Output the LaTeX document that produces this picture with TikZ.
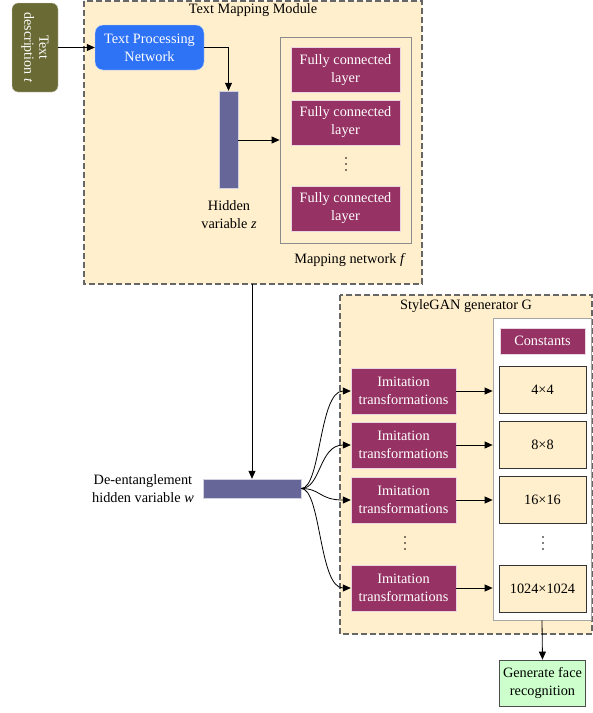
\documentclass[tikz,border=0pt]{standalone}
\usepackage{fontspec}
\setmainfont{Liberation Serif}
\usetikzlibrary{arrows.meta}
\definecolor{beige}{HTML}{FFEFCC}
\definecolor{maroon}{HTML}{973364}
\definecolor{tpblue}{HTML}{2E72F5}
\definecolor{olive}{HTML}{6A6A35}
\definecolor{barc}{HTML}{666699}
\definecolor{greenf}{HTML}{CCFFCC}
\newcommand{\fsz}{\fontsize{14.3}{18}\selectfont}
\tikzset{
  module/.style={draw=black!60, dash pattern=on 6pt off 3pt, line width=1.3pt, fill=beige},
  fcbox/.style={fill=maroon, draw=white!80!maroon, text=white, minimum width=109pt, minimum height=45pt, align=center, font=\fsz, inner sep=0pt},
  imbox/.style={fill=maroon, draw=white!80!maroon, text=white, minimum width=105pt, minimum height=46pt, align=center, font=\fsz, inner sep=0pt},
  sizebox/.style={fill=beige, draw=black!80, line width=0.8pt, minimum width=87pt, minimum height=47pt, align=center, font=\fsz, inner sep=0pt},
  lbl/.style={align=center, font=\fsz, inner sep=0pt},
  dotc/.style={fill=black, circle, inner sep=0pt, minimum size=1.8pt},
  arr/.style={-{Triangle[length=8pt,width=7pt]}, line width=0.8pt},
}
\begin{document}
\begin{tikzpicture}[x=1pt,y=-1pt]
\useasboundingbox (0,0) rectangle (593,713);
% Text mapping module
\draw[module] (84,1) rectangle (422,284);
\node[lbl] (tmmtitle) at (253,10) {Text Mapping Module};
% text description
\node[fill=olive, draw=white!70!olive, rounded corners=6pt, minimum width=46pt, minimum height=89pt, inner sep=0pt] (td) at (35,47.5) {};
\node[rotate=-90, text=white, align=center, font=\fontsize{14}{15}\selectfont] (tdtext) at (35,47.5) {Text\\ description \textit{t}};
% text processing network
\node[fill=tpblue, draw=white!70!tpblue, rounded corners=8pt, minimum width=109pt, minimum height=45pt, text=white, align=center, font=\fsz, inner sep=0pt] (tpn) at (149.5,47.5) {Text Processing\\Network};
\draw[arr] (td.east) -- (tpn.west);
% hidden variable z bar
\node[fill=barc, draw=white!70!barc, minimum width=19pt, minimum height=97pt, inner sep=0pt] (zbar) at (228.5,139.5) {};
\draw[arr] (tpn.east) -| (zbar.north);
\node[lbl] (zlbl) at (229,215) {Hidden\\variable \textit{z}};
% mapping network
\node[draw=black!45, line width=0.8pt, fill=beige, minimum width=131pt, minimum height=206pt, inner sep=0pt] (mapbox) at (345.5,140) {};
\node[fcbox] (fc1) at (345.5,70) {Fully connected\\layer};
\node[fcbox] (fc2) at (345.5,122.5) {Fully connected\\layer};
\node[dotc] (fd1) at (346,158) {};
\node[dotc] (fd2) at (346,164) {};
\node[dotc] (fd3) at (346,170) {};
\node[fcbox] (fc3) at (345.5,208.5) {Fully connected\\layer};
\node[lbl] (maplbl) at (350,260) {Mapping network \textit{f}};
\draw[arr] (zbar.east |- 0,140) coordinate (zout) -- (mapbox.west |- zout);
% w bar
\node[fill=barc, draw=white!70!barc, minimum width=98pt, minimum height=19pt, inner sep=0pt] (wbar) at (252,488.5) {};
\draw[arr] (252,284) coordinate (tmmbottom) -- (wbar.north);
\node[lbl, anchor=east] (wlbl) at (194,488.5) {De-entanglement\\hidden variable \textit{w}};
% StyleGAN generator
\draw[module] (340,295) rectangle (592,634);
\node[lbl] (sgtitle) at (466,306) {StyleGAN generator G};
\node[draw=black!35, line width=0.8pt, fill=white, minimum width=98pt, minimum height=302pt, inner sep=0pt] (wbox) at (542,469) {};
\node[fill=maroon, draw=white!80!maroon, text=white, minimum width=85pt, minimum height=26pt, font=\fsz, inner sep=0pt] (const) at (542.5,341) {Constants};
\node[sizebox] (s1) at (542.5,390) {4×4};
\node[sizebox] (s2) at (542.5,444.5) {8×8};
\node[sizebox] (s3) at (542.5,499.5) {16×16};
\node[dotc] (sd1) at (543,537) {};
\node[dotc] (sd2) at (543,543) {};
\node[dotc] (sd3) at (543,549) {};
\node[sizebox] (s4) at (542.5,588.5) {1024×1024};
\node[imbox] (i1) at (403.5,391) {Imitation\\transformations};
\node[imbox] (i2) at (403.5,445) {Imitation\\transformations};
\node[imbox] (i3) at (403.5,500) {Imitation\\transformations};
\node[dotc] (id1) at (405,537) {};
\node[dotc] (id2) at (405,543) {};
\node[dotc] (id3) at (405,549) {};
\node[imbox] (i4) at (403.5,588) {Imitation\\transformations};
\foreach \i in {1,2,3,4} {
  \draw[arr] (i\i.east) -- (wbox.west |- i\i.east);
}
\coordinate (wout) at (wbar.east);
\foreach \i in {1,2,3,4} {
  \draw[arr] (wout) .. controls (321,488.5) and (319,0 |- i\i.west) .. (i\i.west);
}
% generate face
\node[fill=greenf, draw=black!70, line width=0.8pt, minimum width=86pt, minimum height=46pt, align=center, font=\fsz, inner sep=0pt] (gen) at (542.5,683) {Generate face\\recognition};
\draw[arr] (wbox.south) -- (gen.north);
\end{tikzpicture}
\end{document}
